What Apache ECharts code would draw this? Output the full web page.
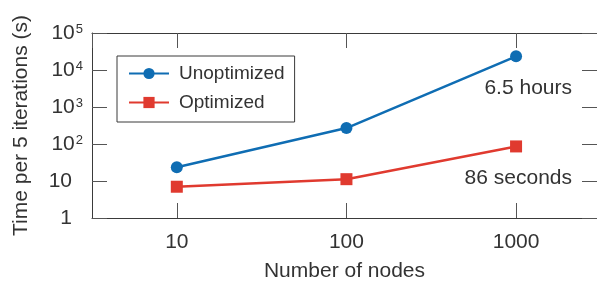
<!DOCTYPE html>
<html>
<head>
<meta charset="utf-8">
<script src="https://cdn.jsdelivr.net/npm/echarts@6/dist/echarts.min.js"></script>
<style>
    html, body { margin: 0; padding: 0; background: #fff; }
    #chart { width: 597px; height: 287px; }
</style>
</head>
<body>
<div id="chart"></div>
<script>
    // values
    var nodes = [10, 100, 1000];
    var unoptimized = [23.5, 270, 23400];
    var optimized = [7, 11.2, 86];
    var annotations = ['6.5 hours', '86 seconds'];

    var FONT = '"Liberation Sans", Arial, sans-serif';
    var BLUE = '#0f6db3';
    var RED = '#e03a2f';
    var FRAME = '#3a3a3a';
    var TICK = '#555';

    function pairs(ys) {
        return nodes.map(function (n, i) { return [n, ys[i]]; });
    }

    function yLabel(v) {
        var e = Math.round(Math.log10(v));
        if (e === 0) return '{p|1}';
        if (e === 1) return '{p|10}';
        return '{b|10}{s|' + e + '}';
    }

    function xLabel(v) {
        var e = Math.log10(v);
        if (Math.abs(e - Math.round(e)) > 1e-6) return '';
        return String(Math.round(v));
    }

    var tickInside = { show: true, inside: true, length: 15, lineStyle: { color: TICK, width: 1 } };
    var frameLine = { show: true, lineStyle: { color: FRAME, width: 1 } };

    var chart = echarts.init(document.getElementById('chart'));
    chart.setOption({
        animation: false,
        textStyle: { fontFamily: FONT },
        grid: { left: 92, top: 33, right: -1, bottom: 65 },
        legend: {
            orient: 'vertical',
            left: 117,
            top: 56,
            padding: [8, 10, 10, 11],
            itemWidth: 40,
            itemHeight: 14,
            itemGap: 10,
            backgroundColor: '#fff',
            borderColor: FRAME,
            borderWidth: 1,
            borderRadius: 0,
            textStyle: { fontSize: 19, color: '#333', fontFamily: FONT, padding: [0, 0, 0, 5] },
            data: ['Unoptimized', 'Optimized']
        },
        xAxis: [{
            type: 'log',
            logBase: 10,
            min: Math.sqrt(10),
            max: 3000,
            position: 'bottom',
            name: 'Number of nodes',
            nameLocation: 'middle',
            nameGap: 43,
            nameTextStyle: { fontSize: 21, color: '#333' },
            axisLine: frameLine,
            axisTick: tickInside,
            axisLabel: { fontSize: 21, color: '#333', margin: 14, formatter: xLabel, showMinLabel: false, showMaxLabel: false },
            splitLine: { show: false },
            minorTick: { show: false }
        }, {
            type: 'log',
            logBase: 10,
            min: Math.sqrt(10),
            max: 3000,
            position: 'top',
            axisLine: frameLine,
            axisTick: tickInside,
            axisLabel: { show: false },
            splitLine: { show: false }
        }],
        yAxis: [{
            type: 'log',
            logBase: 10,
            min: 1,
            max: 100000,
            position: 'left',
            name: 'Time per 5 iterations (s)',
            nameLocation: 'middle',
            nameGap: 60,
            nameTextStyle: { fontSize: 21, color: '#333' },
            axisLine: frameLine,
            axisTick: tickInside,
            axisLabel: {
                color: '#333',
                margin: 9,
                formatter: yLabel,
                rich: {
                    p: { fontSize: 21, color: '#333', padding: [0, 11, 0, 0] },
                    b: { fontSize: 21, color: '#333' },
                    s: { fontSize: 13, color: '#333', verticalAlign: 'top', padding: [0, 0, 0, 1] }
                }
            },
            splitLine: { show: false }
        }, {
            type: 'log',
            logBase: 10,
            min: 1,
            max: 100000,
            position: 'right',
            axisLine: frameLine,
            axisTick: tickInside,
            axisLabel: { show: false },
            splitLine: { show: false }
        }],
        graphic: [{
            type: 'text',
            right: 25,
            top: 78,
            style: { text: annotations[0], font: '21px ' + FONT, fill: '#333' }
        }, {
            type: 'text',
            right: 25,
            top: 168,
            style: { text: annotations[1], font: '21px ' + FONT, fill: '#333' }
        }],
        series: [{
            name: 'Unoptimized',
            type: 'line',
            data: pairs(unoptimized),
            symbol: 'circle',
            symbolSize: 12,
            lineStyle: { color: BLUE, width: 2.5 },
            itemStyle: { color: BLUE },
            z: 3
        }, {
            name: 'Optimized',
            type: 'line',
            data: pairs(optimized),
            symbol: 'rect',
            symbolSize: 12,
            lineStyle: { color: RED, width: 2.5 },
            itemStyle: { color: RED },
            z: 3
        }]
    });
</script>
</body>
</html>
